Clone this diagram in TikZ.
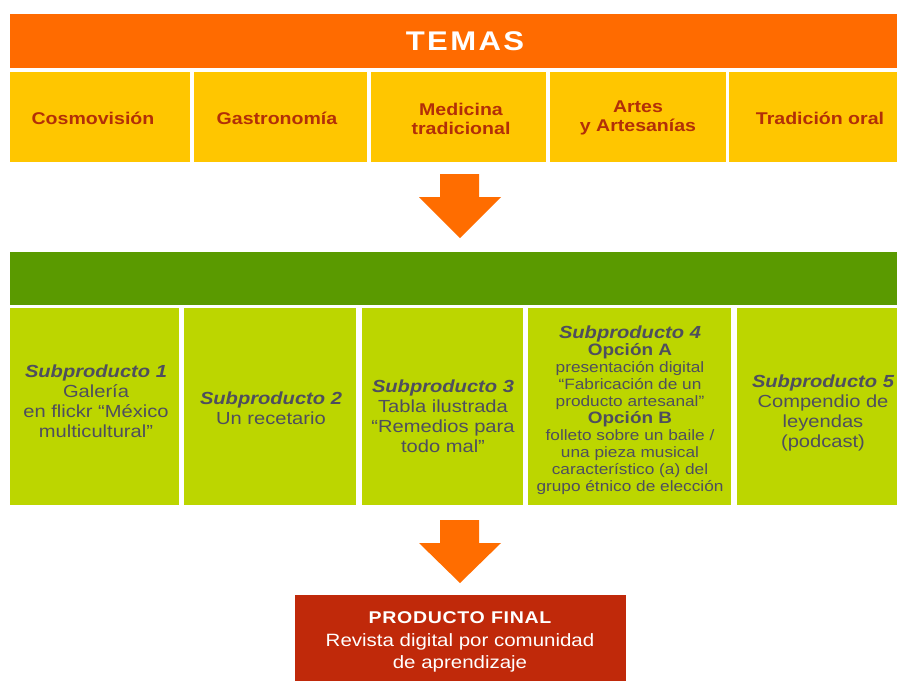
\documentclass[tikz,border=0pt]{standalone}
\usepackage{fontspec}
\setmainfont[FakeStretch=1.15]{Liberation Sans}
\definecolor{hdrorange}{HTML}{FF6B00}
\definecolor{themeyellow}{HTML}{FFC600}
\definecolor{themered}{HTML}{B22F08}
\definecolor{bandgreen}{HTML}{5A9A00}
\definecolor{subgreen}{HTML}{BCD600}
\definecolor{subgray}{HTML}{4E4E5E}
\definecolor{finalred}{HTML}{C0290A}
\definecolor{arroworange}{HTML}{FF6D00}
\begin{document}
\begin{tikzpicture}[x=1pt,y=-1pt,
  cell/.style={rectangle, inner sep=0pt, anchor=north west, draw=none},
  themetxt/.style={font=\fontsize{17}{19.5}\selectfont\bfseries, text=themered, align=center, inner sep=0pt},
  subtxt/.style={font=\fontsize{17.5}{20}\selectfont, text=subgray, align=center, inner sep=0pt},
  blockarrow/.style={fill=arroworange, draw=none}
]
\useasboundingbox[fill=white] (0,0) rectangle (897,681);

% header
\node[cell, fill=hdrorange, minimum width=887pt, minimum height=54pt] (hdr) at (10,14) {};
\node[font=\fontsize{27}{30}\selectfont\bfseries\addfontfeature{LetterSpace=9}, text=white, inner sep=0pt] (temas) at (465,41) {TEMAS};

% themes
\node[cell, fill=themeyellow, minimum width=180pt, minimum height=90pt] (th1) at (10,72) {};
\node[cell, fill=themeyellow, minimum width=173pt, minimum height=90pt] (th2) at (194,72) {};
\node[cell, fill=themeyellow, minimum width=175pt, minimum height=90pt] (th3) at (371,72) {};
\node[cell, fill=themeyellow, minimum width=176pt, minimum height=90pt] (th4) at (550,72) {};
\node[cell, fill=themeyellow, minimum width=168pt, minimum height=90pt] (th5) at (729,72) {};
\node[themetxt] (tt1) at (93,118) {Cosmovisión};
\node[themetxt] (tt2) at (277,118) {Gastronomía};
\node[themetxt] (tt3) at (461,119) {Medicina\\tradicional};
\node[themetxt] (tt4) at (638,118) {Artes\\y Artesanías};
\node[themetxt] (tt5) at (820,118) {Tradición oral};

% arrow 1
\coordinate (a1) at (460,174);
\fill[blockarrow, shift={(a1)}] (-20,0) -- (19,0) -- (19,23) -- (41,23) -- (0,64) -- (-41,23) -- (-20,23) -- cycle;

% green band
\node[cell, fill=bandgreen, minimum width=887pt, minimum height=53pt] (band) at (10,252) {};

% subproducts
\node[cell, fill=subgreen, minimum width=169pt, minimum height=197pt] (s1) at (10,308) {};
\node[cell, fill=subgreen, minimum width=172pt, minimum height=197pt] (s2) at (184,308) {};
\node[cell, fill=subgreen, minimum width=161pt, minimum height=197pt] (s3) at (362,308) {};
\node[cell, fill=subgreen, minimum width=203pt, minimum height=197pt] (s4) at (528,308) {};
\node[cell, fill=subgreen, minimum width=160pt, minimum height=197pt] (s5) at (737,308) {};

\node[subtxt] (st1) at (96,401) {{\bfseries\itshape Subproducto 1}\\Galería\\en flickr “México\\multicultural”};
\node[subtxt] (st2) at (271,408) {{\bfseries\itshape Subproducto 2}\\Un recetario};
\node[subtxt] (st3) at (443,416) {{\bfseries\itshape Subproducto 3}\\Tabla ilustrada\\“Remedios para\\todo mal”};
\node[subtxt, font=\fontsize{15}{17}\selectfont] (st4) at (630,410) {{\fontsize{17.5}{20}\selectfont\bfseries\itshape Subproducto 4}\\{\fontsize{16.5}{17}\selectfont\bfseries Opción A}\\presentación digital\\“Fabricación de un\\producto artesanal”\\{\fontsize{16.5}{17}\selectfont\bfseries Opción B}\\folleto sobre un baile /\\una pieza musical\\característico (a) del\\grupo étnico de elección};
\node[subtxt] (st5) at (823,413) {{\bfseries\itshape Subproducto 5}\\Compendio de\\leyendas\\(podcast)};

% arrow 2
\coordinate (a2) at (460,520);
\fill[blockarrow, shift={(a2)}] (-20,0) -- (19,0) -- (19,23) -- (41,23) -- (0,63) -- (-41,23) -- (-20,23) -- cycle;

% final product
\node[cell, fill=finalred, minimum width=331pt, minimum height=86pt] (final) at (295,595) {};
\node[subtxt, text=white, font=\fontsize{17.8}{22.5}\selectfont] (ft) at (460,642) {{\fontsize{17}{20}\selectfont\bfseries\addfontfeature{LetterSpace=4}PRODUCTO FINAL}\\Revista digital por comunidad\\de aprendizaje};
\end{tikzpicture}
\end{document}
